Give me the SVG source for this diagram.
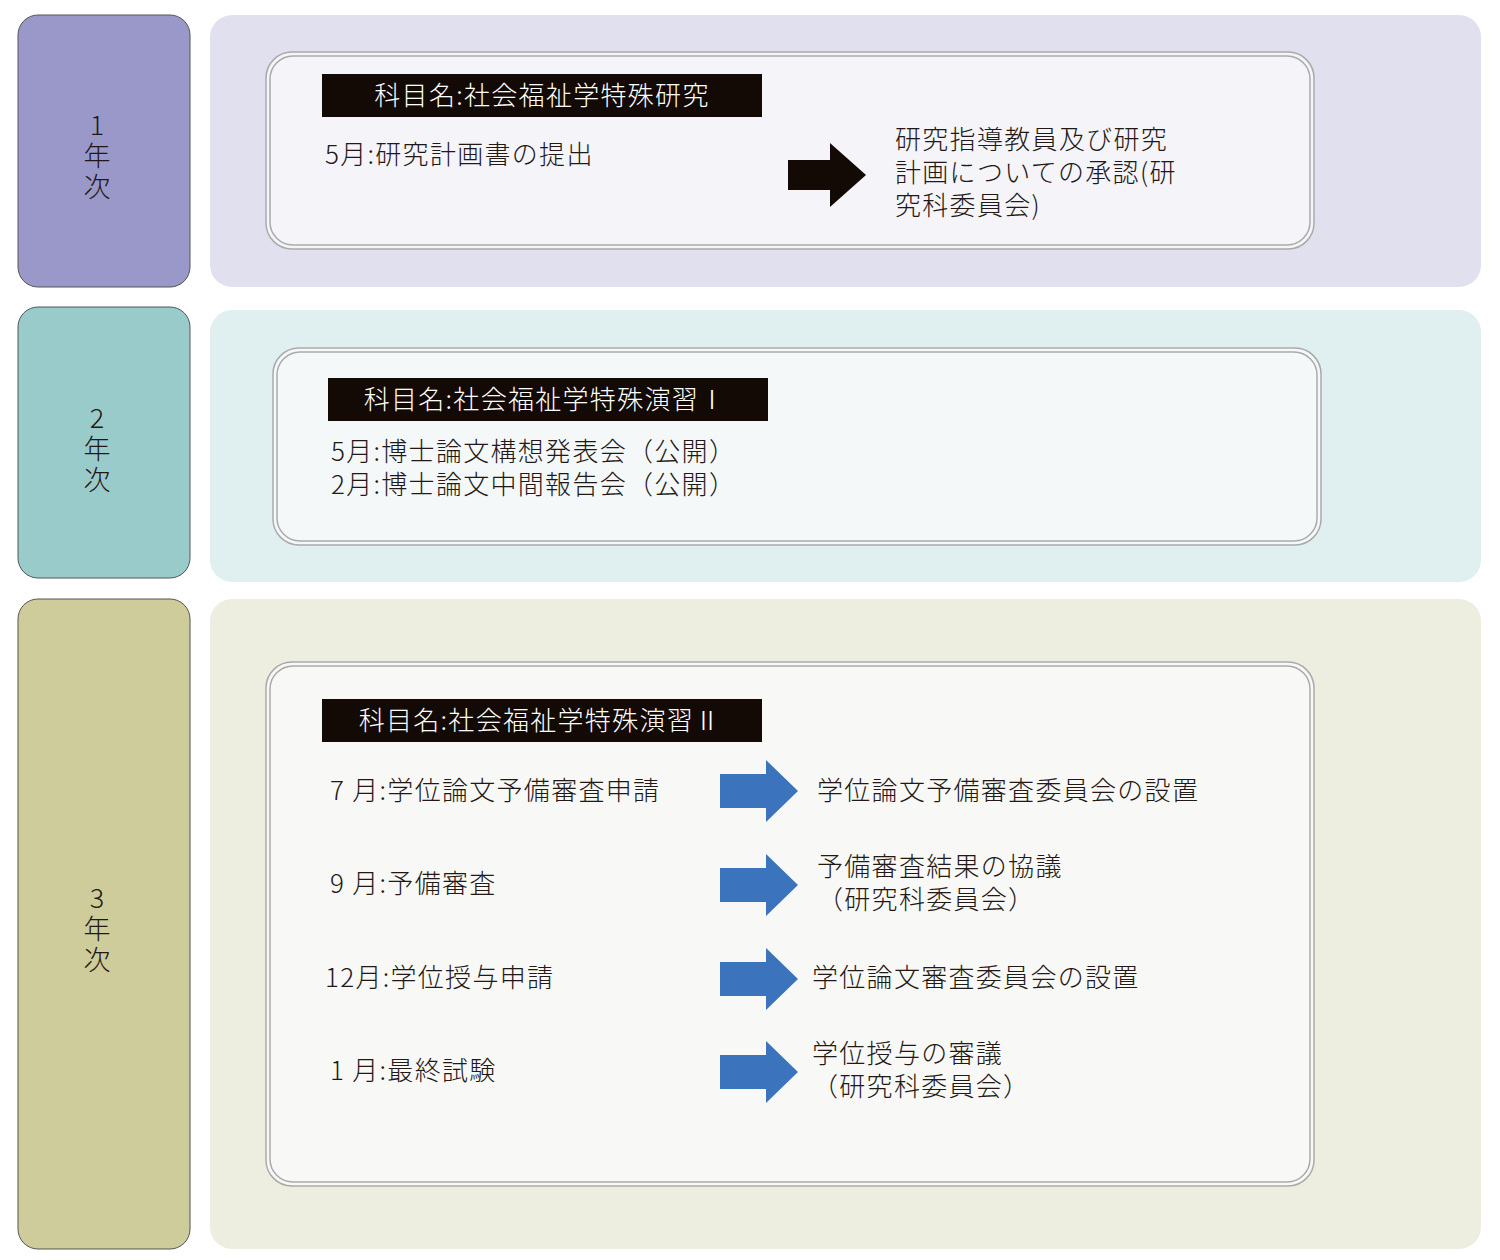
<svg xmlns="http://www.w3.org/2000/svg" width="1500" height="1260" viewBox="0 0 1500 1260">
<style>
text{font-family:"Noto Sans CJK JP","Noto Sans",sans-serif;font-size:26px;fill:#231815;font-weight:300;letter-spacing:1.3px}
.lbl{fill:#fff;font-size:26px}
.yr{font-size:27px;text-anchor:middle;letter-spacing:0}
.col{stroke:#555;stroke-width:1}
.inner{stroke:#aaa;stroke-width:1.5}
.inner2{fill:none;stroke:#aaa;stroke-width:1.5}
.ba{fill:#3b74bc}
</style>
<defs>
<path id="barrow" d="M0,-17 H46 V-31 L78,0 L46,31 V17 H0 Z"/>
</defs>
<g id="year1">
<rect class="col" x="18" y="15" width="172" height="272" rx="20" fill="#9a98c8"/>
<text class="yr" x="97" y="135">1</text><text class="yr" x="97" y="166">年</text><text class="yr" x="97" y="197">次</text>
<rect x="210" y="15" width="1271" height="272" rx="22" fill="#e1e0ef"/>
<rect class="inner" x="266" y="52" width="1048" height="197" rx="26" fill="#f4f4f9"/>
<rect class="inner2" x="270" y="56" width="1040" height="189" rx="23"/>
<rect x="322" y="74" width="440" height="43" fill="#130a05"/>
<text class="lbl" x="542" y="105" text-anchor="middle">科目名:社会福祉学特殊研究</text>
<text x="325" y="164">5月:研究計画書の提出</text>
<path d="M788,160 H830 V143 L866,175 L830,207 V190 H788 Z" fill="#130a05"/>
<text x="895" y="149">研究指導教員及び研究</text>
<text x="895" y="182">計画についての承認(研</text>
<text x="895" y="215">究科委員会)</text>
</g>
<g id="year2">
<rect class="col" x="18" y="307" width="172" height="271" rx="20" fill="#9acbcb"/>
<text class="yr" x="97" y="428">2</text><text class="yr" x="97" y="459">年</text><text class="yr" x="97" y="490">次</text>
<rect x="210" y="310" width="1271" height="272" rx="22" fill="#e0efef"/>
<rect class="inner" x="273" y="348" width="1048" height="197" rx="26" fill="#f4f8f9"/>
<rect class="inner2" x="277" y="352" width="1040" height="189" rx="23"/>
<rect x="328" y="378" width="440" height="43" fill="#130a05"/>
<text class="lbl" x="545" y="409" text-anchor="middle">科目名:社会福祉学特殊演習Ⅰ</text>
<text x="331" y="461">5月:博士論文構想発表会（公開）</text>
<text x="331" y="494">2月:博士論文中間報告会（公開）</text>
</g>
<g id="year3">
<rect class="col" x="18" y="599" width="172" height="650" rx="20" fill="#cdcc9a"/>
<text class="yr" x="97" y="908">3</text><text class="yr" x="97" y="939">年</text><text class="yr" x="97" y="970">次</text>
<rect x="210" y="599" width="1271" height="650" rx="22" fill="#eeeee0"/>
<rect class="inner" x="266" y="662" width="1048" height="524" rx="26" fill="#f8f9f6"/>
<rect class="inner2" x="270" y="666" width="1040" height="516" rx="23"/>
<rect x="322" y="699" width="440" height="43" fill="#130a05"/>
<text class="lbl" x="540" y="730" text-anchor="middle">科目名:社会福祉学特殊演習Ⅱ</text>
<text x="330" y="800">7 月:学位論文予備審査申請</text>
<text x="330" y="893">9 月:予備審査</text>
<text x="325" y="987">12月:学位授与申請</text>
<text x="330" y="1080">1 月:最終試験</text>
<text x="817" y="800">学位論文予備審査委員会の設置</text>
<text x="817" y="876">予備審査結果の協議</text>
<text x="817" y="909">（研究科委員会）</text>
<text x="812" y="987">学位論文審査委員会の設置</text>
<text x="812" y="1063">学位授与の審議</text>
<text x="812" y="1096">（研究科委員会）</text>
</g>
<g id="connectors">
<use href="#barrow" class="ba" x="720" y="791"/>
<use href="#barrow" class="ba" x="720" y="885"/>
<use href="#barrow" class="ba" x="720" y="979"/>
<use href="#barrow" class="ba" x="720" y="1072"/>
</g>
</svg>
